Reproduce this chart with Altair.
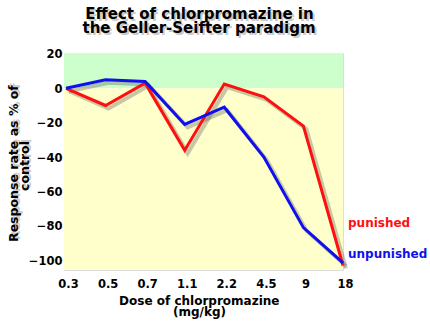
import altair as alt
import pandas as pd

doses = ["0.3", "0.5", "0.7", "1.1", "2.2", "4.5", "9", "18"]
punished = [0, -10, 3, -36, 2.5, -5, -22, -103]
unpunished = [0, 5, 4, -21, -11, -40, -81, -101.5]
series_names = ["punished", "unpunished"]
series_colors = ["#ff1010", "#1010ee"]
y_ticks = [-100, -80, -60, -40, -20, 0, 20]
y_domain = [-105.6, 20.5]
band_tops = [20.5, 0]
band_bottoms = [0, -105.6]
band_colors = ["#ccffcc", "#ffffcc"]
title_lines = ["Effect of chlorpromazine in", "the Geller-Seifter paradigm"]
y_title_lines = ["Response rate as % of", "control"]
x_title_lines = ["Dose of chlorpromazine", "(mg/kg)"]

W, H = 279, 217
FONT = "DejaVu Sans"

rows = []
for name, vals in zip(series_names, [punished, unpunished]):
    for d, v in zip(doses, vals):
        rows.append({"dose": d, "value": v, "series": name})
df = pd.DataFrame(rows)

bands = pd.DataFrame({"top": band_tops, "bottom": band_bottoms, "color": band_colors})
one = pd.DataFrame({"k": [0]})

xenc = alt.X("dose:N", sort=doses, scale=alt.Scale(type="point", padding=0, range=[2, W]),
             axis=alt.Axis(title=None, labelAngle=0, domain=False, ticks=False, grid=False,
                           labelFont=FONT, labelFontWeight="bold", labelFontSize=11.5,
                           labelColor="black", labelPadding=8, labelOffset=2))
yscale = alt.Scale(domain=y_domain, nice=False, zero=False)
yaxis = alt.Axis(title=None, values=y_ticks, domain=False, ticks=False, grid=False,
                 labelFont=FONT, labelFontWeight="bold", labelFontSize=11.5,
                 labelColor="black", labelPadding=2, labelOffset=1)
yenc = alt.Y("value:Q", scale=yscale, axis=yaxis)

bg = alt.Chart(bands).mark_rect().encode(
    x=alt.value(0), x2=alt.value(W),
    y=alt.Y("top:Q", scale=yscale, axis=yaxis), y2="bottom:Q",
    color=alt.Color("color:N", scale=None),
)

shadow = alt.Chart(df).mark_line(xOffset=3, yOffset=3, strokeWidth=4, color="#444",
                                 opacity=0.3).encode(x=xenc, y=yenc, detail="series:N")

lines = alt.Chart(df).mark_line(strokeWidth=3).encode(
    x=xenc, y=yenc,
    color=alt.Color("series:N", scale=alt.Scale(domain=series_names, range=series_colors),
                    legend=None),
)

def txt(text, x, y, size, color="black", angle=0, shadow=False):
    kw = dict(text=text, font=FONT, fontWeight="bold", fontSize=size, align="center",
              baseline="alphabetic", angle=angle)
    layers = []
    if shadow:
        layers.append(alt.Chart(one).mark_text(**kw, color="#555", opacity=0.3, dx=2, dy=2)
                      .encode(x=alt.value(x), y=alt.value(y)))
    layers.append(alt.Chart(one).mark_text(**kw, color=color).encode(x=alt.value(x), y=alt.value(y)))
    return layers

texts = []
texts += txt(title_lines[0], 135.5, -34, 15, shadow=True)
texts += txt(title_lines[1], 135, -20.4, 15, shadow=True)
texts += txt(y_title_lines[0], -46.5, 110.6, 12.5, angle=270, shadow=True)
texts += txt(y_title_lines[1], -34.7, 113, 12.5, angle=270, shadow=True)
texts += txt(x_title_lines[0], 135.3, 252.3, 12)
texts += txt(x_title_lines[1], 135.5, 263, 12)

legend_layers = []
for name, col, yy in zip(series_names, series_colors, [173.7, 205.3]):
    legend_layers.append(alt.Chart(one).mark_text(
        text=name, font=FONT, fontWeight="bold", fontSize=12, align="left",
        baseline="alphabetic", color=col).encode(x=alt.value(W + 5), y=alt.value(yy)))

chart = alt.layer(bg, shadow, lines, *texts, *legend_layers).properties(
    width=W, height=H,
    autosize=alt.AutoSizeParams(type="none"),
    padding={"left": 64, "top": 53, "right": 430 - 64 - W, "bottom": 325 - 53 - H},
).configure_view(stroke=None).configure(background="white")

chart.save("out.html", embed_options={"renderer": "svg", "actions": False})
